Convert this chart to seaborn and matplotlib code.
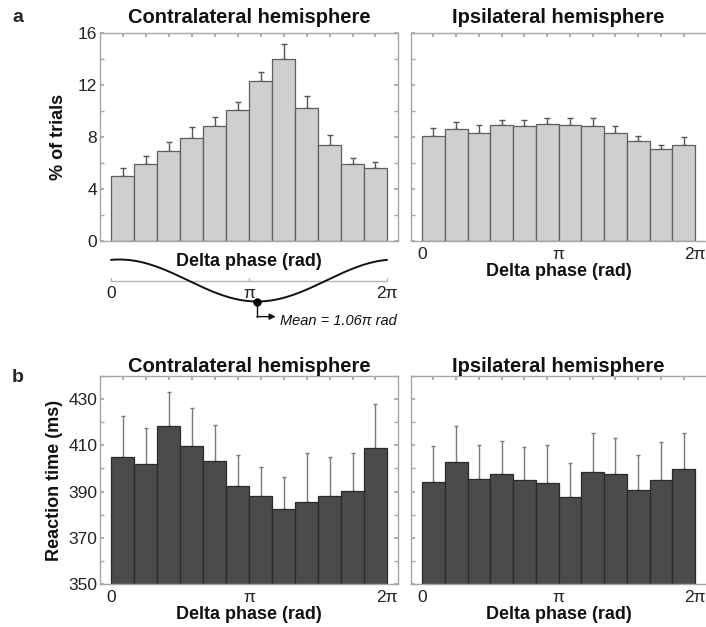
import numpy as np
import pandas as pd
import matplotlib
matplotlib.use("Agg")
import matplotlib.pyplot as plt
import seaborn as sns

# ---------------- data ----------------
n_bins = 12
bin_centers = (np.arange(n_bins) + 0.5) * 2 * np.pi / n_bins

contra_trials = [5.0, 5.9, 6.9, 7.95, 8.85, 10.05, 12.3, 14.0, 10.25, 7.4, 5.9, 5.58]
contra_trials_err = [0.62, 0.62, 0.7, 0.8, 0.72, 0.63, 0.72, 1.13, 0.93, 0.77, 0.5, 0.52]
ipsi_trials = [8.09, 8.65, 8.32, 8.96, 8.83, 8.99, 8.91, 8.83, 8.29, 7.7, 7.04, 7.42]
ipsi_trials_err = [0.62, 0.47, 0.59, 0.36, 0.49, 0.51, 0.54, 0.67, 0.52, 0.39, 0.38, 0.57]

contra_rt = [404.9, 402.0, 418.2, 409.7, 403.4, 392.4, 388.2, 382.6, 385.5, 387.9, 390.1, 408.7]
contra_rt_err = [17.9, 15.5, 14.7, 16.4, 15.3, 13.3, 12.4, 13.9, 21.2, 17.0, 16.6, 19.1]
ipsi_rt = [394.1, 402.7, 395.4, 397.5, 394.8, 393.9, 387.6, 398.4, 397.4, 390.8, 395.1, 399.7]
ipsi_rt_err = [15.4, 15.8, 14.9, 14.3, 14.4, 16.3, 14.7, 17.1, 15.8, 14.9, 16.4, 15.6]

mean_phase = 1.06 * np.pi
xtick_labels = ["0", "\u03c0", "2\u03c0"]

# ---------------- style ----------------
sns.set_theme(style="white")
plt.rcParams["font.family"] = ["Liberation Sans", "DejaVu Sans"]
plt.rcParams["axes.linewidth"] = 1.0

W, H = 706, 627
fig = plt.figure(figsize=(W / 100, H / 100), dpi=100)


def px_axes(x0, x1, y0, y1):
    return fig.add_axes([x0 / W, (H - y1) / H, (x1 - x0) / W, (y1 - y0) / H])


ppr_left = 276 / (2 * np.pi)
xlim_left = (-11 / ppr_left, 2 * np.pi + 11 / ppr_left)
ppr_right = 273 / (2 * np.pi)
xlim_right = (-11 / ppr_right, 2 * np.pi + 11 / ppr_right)

ax_a1 = px_axes(100, 398, 33, 241)
ax_a2 = px_axes(411, 706, 33, 241)
ax_b1 = px_axes(100, 398, 376, 584)
ax_b2 = px_axes(411, 706, 376, 584)

spine_col = "#a6a6a6"
light_fill, light_edge = "#cfcfcf", "#5e5e5e"
dark_fill, dark_edge = "#4b4b4b", "#2a2a2a"


def draw_panel(ax, vals, errs, fill, edge, ecol, cap, xlim, right_side=True):
    df = pd.DataFrame({"phase": bin_centers, "value": vals})
    sns.barplot(data=df, x="phase", y="value", native_scale=True, width=1.0,
                color=fill, saturation=1, edgecolor=edge, linewidth=0.9,
                errorbar=None, ax=ax, zorder=2)
    ax.errorbar(bin_centers, vals, yerr=[np.zeros(len(errs)), errs], fmt="none",
                ecolor=ecol, elinewidth=1.0, capsize=cap, capthick=1.0, zorder=1)
    ax.set_xlim(*xlim)
    ax.set_xlabel("")
    ax.set_ylabel("")
    for s in ax.spines.values():
        s.set_color(spine_col)
        s.set_visible(True)
    ax.spines["right"].set_visible(right_side)
    ax.set_xticks(bin_centers)
    ax.set_xticklabels([""] * n_bins)
    ax.tick_params(axis="x", which="major", direction="in", length=3, top=True,
                   bottom=False, labelbottom=False, color=spine_col)
    ax.tick_params(axis="y", which="both", direction="in", length=3, left=True,
                   right=right_side, color=spine_col, labelsize=12.5,
                   labelcolor="#222222", pad=2)


def phase_labels(ax):
    ax.set_xticks([0, np.pi, 2 * np.pi], minor=True)
    ax.set_xticklabels(xtick_labels, minor=True)
    ax.tick_params(axis="x", which="minor", length=0, labelsize=12.5,
                   labelcolor="#222222", pad=4, bottom=True, labelbottom=True)


label_kw = dict(fontsize=13, fontweight="bold", color="#111111")
title_kw = dict(fontsize=14.5, fontweight="bold", color="#111111")

# ---- panel a ----
for ax, v, e, xl, rs in [(ax_a1, contra_trials, contra_trials_err, xlim_left, True),
                         (ax_a2, ipsi_trials, ipsi_trials_err, xlim_right, False)]:
    draw_panel(ax, v, e, light_fill, light_edge, "#555555", 2.5, xl, rs)
    ax.set_ylim(0, 16)
    ax.set_yticks([0, 4, 8, 12, 16])
    ax.set_yticks([2, 6, 10, 14], minor=True)
ax_a2.tick_params(axis="y", labelleft=False)
ax_a1.set_ylabel("% of trials", labelpad=8, **label_kw)
phase_labels(ax_a2)
ax_a2.set_xlabel("Delta phase (rad)", labelpad=1, **label_kw)
ax_a1.set_title("Contralateral hemisphere", pad=7, **title_kw)
ax_a2.set_title("Ipsilateral hemisphere", pad=7, **title_kw)

# ---- panel b ----
for ax, v, e, xl, rs in [(ax_b1, contra_rt, contra_rt_err, xlim_left, True),
                         (ax_b2, ipsi_rt, ipsi_rt_err, xlim_right, False)]:
    draw_panel(ax, v, e, dark_fill, dark_edge, "#7a7a7a", 1.4, xl, rs)
    ax.set_ylim(350, 440)
    ax.set_yticks([350, 370, 390, 410, 430])
    ax.set_yticks([360, 380, 400, 420, 440], minor=True)
    phase_labels(ax)
    ax.set_xlabel("Delta phase (rad)", labelpad=1, **label_kw)
ax_b2.tick_params(axis="y", labelleft=False)
ax_b1.set_ylabel("Reaction time (ms)", labelpad=4, **label_kw)
ax_b1.set_title("Contralateral hemisphere", pad=3, **title_kw)
ax_b2.set_title("Ipsilateral hemisphere", pad=3, **title_kw)

# ---- phase schematic under contralateral histogram ----
ax_c = px_axes(100, 398, 245, 335)
scale = 21.0
ax_c.set_xlim(*xlim_left)
ax_c.set_ylim(-(335 - 280.5) / scale, (280.5 - 245) / scale)
ax_c.axis("off")
xs = np.linspace(0, 2 * np.pi, 300)
ax_c.plot([0, 2 * np.pi], [0, 0], color="#b5b5b5", lw=1.0)
for t in [0, np.pi, 2 * np.pi]:
    ax_c.plot([t, t], [0, 0.13], color="#b5b5b5", lw=1.0)
ax_c.plot(xs, -np.cos(xs - mean_phase), color="#111111", lw=1.4)
ax_c.text(np.pi, 0.9, "Delta phase (rad)", ha="center", va="center", **label_kw)
for t, lab in zip([0, np.pi, 2 * np.pi], xtick_labels):
    ax_c.text(t, -0.61, lab, ha="center", va="center", fontsize=12.5, color="#222222")
ax_c.plot([mean_phase], [-1], "o", color="#000000", ms=5)
ax_c.plot([mean_phase, mean_phase], [-1, -1.72], color="#111111", lw=1.0)
ax_c.annotate("", xy=(3.75, -1.72), xytext=(mean_phase - 0.01, -1.72),
              arrowprops=dict(arrowstyle="-|>", color="#111111", lw=1.0,
                              mutation_scale=9, shrinkA=0, shrinkB=0))
ax_c.text(3.85, -1.91, "Mean = 1.06\u03c0 rad", ha="left", va="center",
          fontsize=10.5, style="italic", color="#111111")

# panel letters
fig.text(12 / W, 1 - 18 / H, "a", fontsize=14, fontweight="bold", va="center", ha="left")
fig.text(12 / W, 1 - 378 / H, "b", fontsize=14, fontweight="bold", va="center", ha="left")

fig.savefig("out.png", dpi=100)
